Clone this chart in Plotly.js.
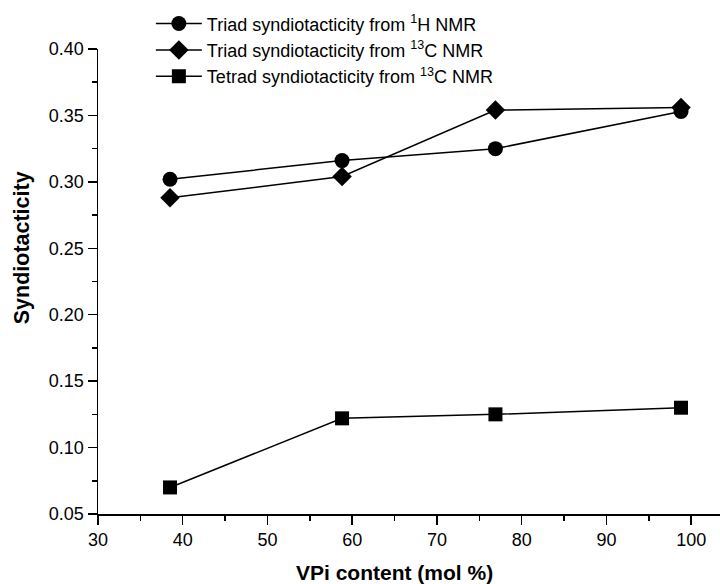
<!DOCTYPE html>
<html>
<head>
<meta charset="utf-8">
<script src="https://cdn.plot.ly/plotly-3.0.1.min.js"></script>
<style>
  html, body { margin: 0; padding: 0; background: #fff; }
  #chart { width: 720px; height: 584px; }
</style>
</head>
<body>
<div id="chart"></div>
<script>
// VPi content (mol %) of each sample
const vpiContent = [38.5, 58.8, 76.9, 98.8];

// Syndiotacticity values
const triadH1 = [0.302, 0.316, 0.325, 0.353];
const triadC13 = [0.288, 0.304, 0.354, 0.356];
const tetradC13 = [0.070, 0.122, 0.125, 0.130];

const seriesNames = [
  'Triad syndiotacticity from <sup>1</sup>H NMR',
  'Triad syndiotacticity from <sup>13</sup>C NMR',
  'Tetrad syndiotacticity from <sup>13</sup>C NMR'
];

const yTickVals = [0.05, 0.10, 0.15, 0.20, 0.25, 0.30, 0.35, 0.40];
const yTickText = ['0.05', '0.10', '0.15', '0.20', '0.25', '0.30', '0.35', '0.40'];
const xTickVals = [30, 40, 50, 60, 70, 80, 90, 100];

const lineStyle = { color: '#000', width: 1.5 };

function series(y, name, symbol, size, group) {
  return {
    x: vpiContent,
    y: y,
    name: name,
    type: 'scatter',
    mode: 'lines+markers',
    line: lineStyle,
    marker: { symbol: symbol, size: size, color: '#000' },
    legendgroup: group,
    cliponaxis: false
  };
}

const traces = [
  series(triadH1, seriesNames[0], 'circle', 15, 'a'),
  series(triadC13, seriesNames[1], 'diamond', 15, 'b'),
  series(tetradC13, seriesNames[2], 'square', 14, 'c')
];

const family = 'Liberation Sans, Arial, sans-serif';
const axisFont = { family: family, size: 18, color: '#000' };
const legendFont = { family: family, size: 18, color: '#000' };

const layout = {
  width: 720,
  height: 584,
  margin: { l: 98, r: 0, t: 49, b: 70 },
  paper_bgcolor: '#fff',
  plot_bgcolor: '#fff',
  showlegend: true,
  legend: {
    x: 0.085, y: 1.094, xanchor: 'left', yanchor: 'top',
    font: legendFont,
    bgcolor: 'rgba(0,0,0,0)',
    itemwidth: 46,
    tracegroupgap: 0,
    traceorder: 'normal'
  },
  xaxis: {
    range: [30, 103.4],
    showgrid: false,
    zeroline: false,
    showline: true,
    linecolor: '#000',
    linewidth: 1.5,
    ticks: 'outside',
    ticklen: 9,
    tickwidth: 1.5,
    tickcolor: '#000',
    tickvals: xTickVals,
    tickfont: axisFont,
    minor: { ticks: 'outside', ticklen: 5, tickwidth: 1.5, tickcolor: '#000', dtick: 5, tick0: 30 }
  },
  yaxis: {
    range: [0.05, 0.40],
    showgrid: false,
    zeroline: false,
    showline: true,
    linecolor: '#000',
    linewidth: 1.5,
    ticks: 'outside',
    ticklen: 9,
    tickwidth: 1.5,
    tickcolor: '#000',
    tickvals: yTickVals,
    ticktext: yTickText,
    tickfont: axisFont,
    minor: { ticks: 'outside', ticklen: 5, tickwidth: 1.5, tickcolor: '#000', dtick: 0.025, tick0: 0.05 }
  },
  annotations: [
    {
      text: 'VPi content (mol %)',
      xref: 'x', yref: 'paper',
      x: 65, y: 0, yshift: -58,
      showarrow: false, font: { family: family, size: 21, color: '#000', weight: 'bold' },
      xanchor: 'center', yanchor: 'middle'
    },
    {
      text: 'Syndiotacticity',
      xref: 'paper', yref: 'y',
      x: 0, y: 0.25, xshift: -76,
      textangle: -90,
      showarrow: false, font: { family: family, size: 21.5, color: '#000', weight: 'bold' },
      xanchor: 'center', yanchor: 'middle'
    }
  ]
};

Plotly.newPlot('chart', traces, layout, { displayModeBar: false, staticPlot: true });
</script>
</body>
</html>
